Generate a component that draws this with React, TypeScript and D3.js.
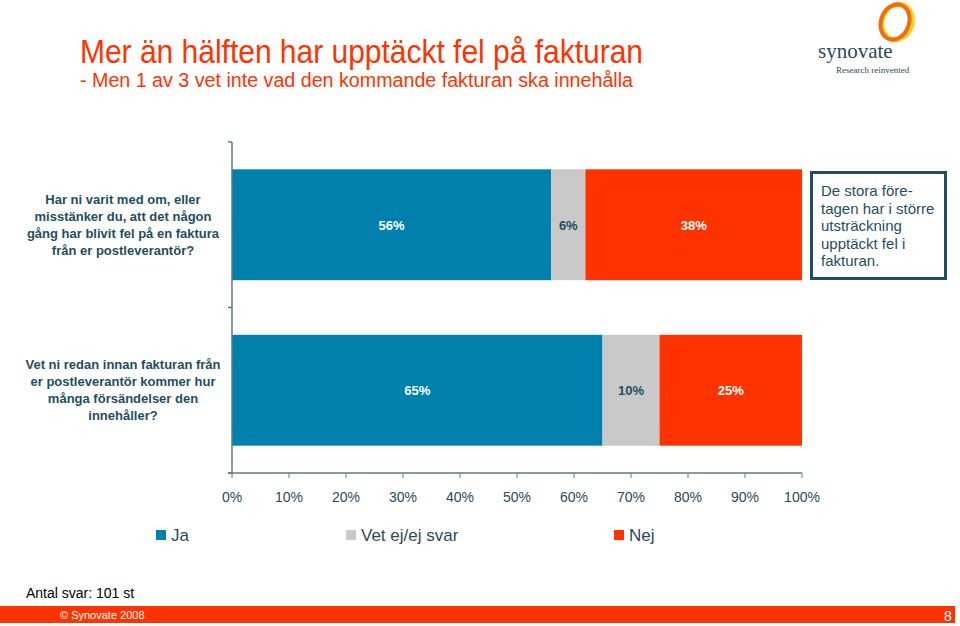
import React from "react";
import * as d3 from "d3";

const categories = ["q1", "q2"];
const categoryLabels = [
  ["Har ni varit med om, eller", "misstänker du, att det någon", "gång har blivit fel på en faktura", "från er postleverantör?"],
  ["Vet ni redan innan fakturan från", "er postleverantör kommer hur", "många försändelser den", "innehåller?"],
];
const seriesNames = ["Ja", "Vet ej/ej svar", "Nej"];
const jaValues = [56, 65];
const vetEjValues = [6, 10];
const nejValues = [38, 25];
const xTicks = [0, 10, 20, 30, 40, 50, 60, 70, 80, 90, 100];
const noteLines = ["De stora före-", "tagen har i större", "utsträckning", "upptäckt fel i", "fakturan."];

const colors = ["#0080AC", "#C9C9C9", "#FF3300"];
const labelColors = ["#FFFFFF", "#1F4E5F", "#FFFFFF"];
const teal = "#1F4E5F";
const axisColor = "#5F7A86";

export default function App() {
  const W = 960, H = 626;
  const x = d3.scaleLinear().domain([0, 100]).range([232, 802]);
  const y = d3.scaleBand().domain(categories).range([142, 473]).paddingInner(0.33).paddingOuter(0.165);
  const rows = categories.map((c, i) => ({ cat: c, [seriesNames[0]]: jaValues[i], [seriesNames[1]]: vetEjValues[i], [seriesNames[2]]: nejValues[i] }));
  const stacked = d3.stack<any>().keys(seriesNames)(rows);
  const sans = "'Liberation Sans', Arial, sans-serif";
  const narrow = "'Liberation Sans Narrow', 'Arial Narrow', 'Liberation Sans', Arial, sans-serif";
  const legendX = [156, 346, 614];

  return (
    <svg width={W} height={H} style={{ position: "absolute", left: 0, top: 0, background: "#fff" }} fontFamily={sans}>
      <rect width={W} height={H} fill="#fff" />
      {/* Title */}
      <text x={80} y={63} fontSize={33} fill="#FF3300" fontFamily={narrow} textLength={563} lengthAdjust="spacingAndGlyphs">Mer än hälften har upptäckt fel på fakturan</text>
      <text x={80} y={87} fontSize={20} fill="#FF3300" fontFamily={narrow} textLength={553} lengthAdjust="spacingAndGlyphs">- Men 1 av 3 vet inte vad den kommande fakturan ska innehålla</text>

      {/* Logo */}
      <g>
        <ellipse cx={897} cy={22} rx={15} ry={18} fill="none" stroke="#F7D117" strokeWidth={5} transform="rotate(20 897 22)" />
        <ellipse cx={895} cy={22} rx={14} ry={18} fill="none" stroke="#F26B12" strokeWidth={4} transform="rotate(20 895 22)" />
        <text x={818} y={58} fontSize={21} fill="#2A4A5A" fontFamily="'Liberation Serif', 'DejaVu Serif', serif">synovate</text>
        <text x={836} y={73} fontSize={9} fill="#2A4A5A" fontFamily="'Liberation Serif', 'DejaVu Serif', serif">Research reinvented</text>
      </g>

      {/* Bars */}
      {stacked.map((s, si) => (
        <g key={s.key}>
          {s.map((d, i) => {
            const yy = y(categories[i])!;
            const x0 = x(d[0]), x1 = x(d[1]);
            return (
              <g key={i}>
                <rect x={x0} y={yy} width={x1 - x0} height={y.bandwidth()} fill={colors[si]} />
                <text x={(x0 + x1) / 2} y={yy + y.bandwidth() / 2 + 5} textAnchor="middle" fontSize={13} fontWeight="bold" fill={labelColors[si]}>
                  {`${d[1] - d[0]}%`}
                </text>
              </g>
            );
          })}
        </g>
      ))}

      {/* Axes */}
      <line x1={232} y1={142} x2={232} y2={473} stroke={axisColor} strokeWidth={1.5} />
      {[142, 307.5, 473].map((v, i) => (
        <line key={i} x1={228} y1={v} x2={232} y2={v} stroke={axisColor} strokeWidth={1.5} />
      ))}
      <line x1={228} y1={473} x2={802} y2={473} stroke={axisColor} strokeWidth={1.5} />
      {xTicks.map((t) => (
        <g key={t}>
          <line x1={x(t)} y1={473} x2={x(t)} y2={478} stroke={axisColor} strokeWidth={1} />
          <text x={x(t)} y={502} textAnchor="middle" fontSize={14} fill="#2A4A5A">{`${t}%`}</text>
        </g>
      ))}

      {/* Category labels */}
      {categoryLabels.map((lines, i) => {
        const cy = y(categories[i])! + y.bandwidth() / 2;
        return lines.map((l, j) => (
          <text key={`${i}-${j}`} x={123} y={cy - 25.5 + j * 17 + 4.5} textAnchor="middle" fontSize={13} fontWeight="bold" fill={teal}>{l}</text>
        ));
      })}

      {/* Note box */}
      <rect x={811.5} y={172.5} width={134} height={106} fill="#fff" stroke={teal} strokeWidth={3} />
      {noteLines.map((l, j) => (
        <text key={j} x={821} y={196 + j * 17.5} fontSize={15} fill={teal}>{l}</text>
      ))}

      {/* Legend */}
      {seriesNames.map((n, i) => (
        <g key={n}>
          <rect x={legendX[i]} y={530} width={10} height={10} fill={colors[i]} />
          <text x={legendX[i] + 15} y={541} fontSize={17} fill="#2A4A5A">{n}</text>
        </g>
      ))}

      {/* Footer */}
      <text x={26} y={598} fontSize={14} fill="#000">Antal svar: 101 st</text>
      <rect x={0} y={606} width={955} height={17} fill="#FF3300" />
      <text x={60} y={619} fontSize={11} fill="#fff">© Synovate 2008</text>
      <text x={944} y={621} fontSize={14} fill="#fff">8</text>
    </svg>
  );
}
